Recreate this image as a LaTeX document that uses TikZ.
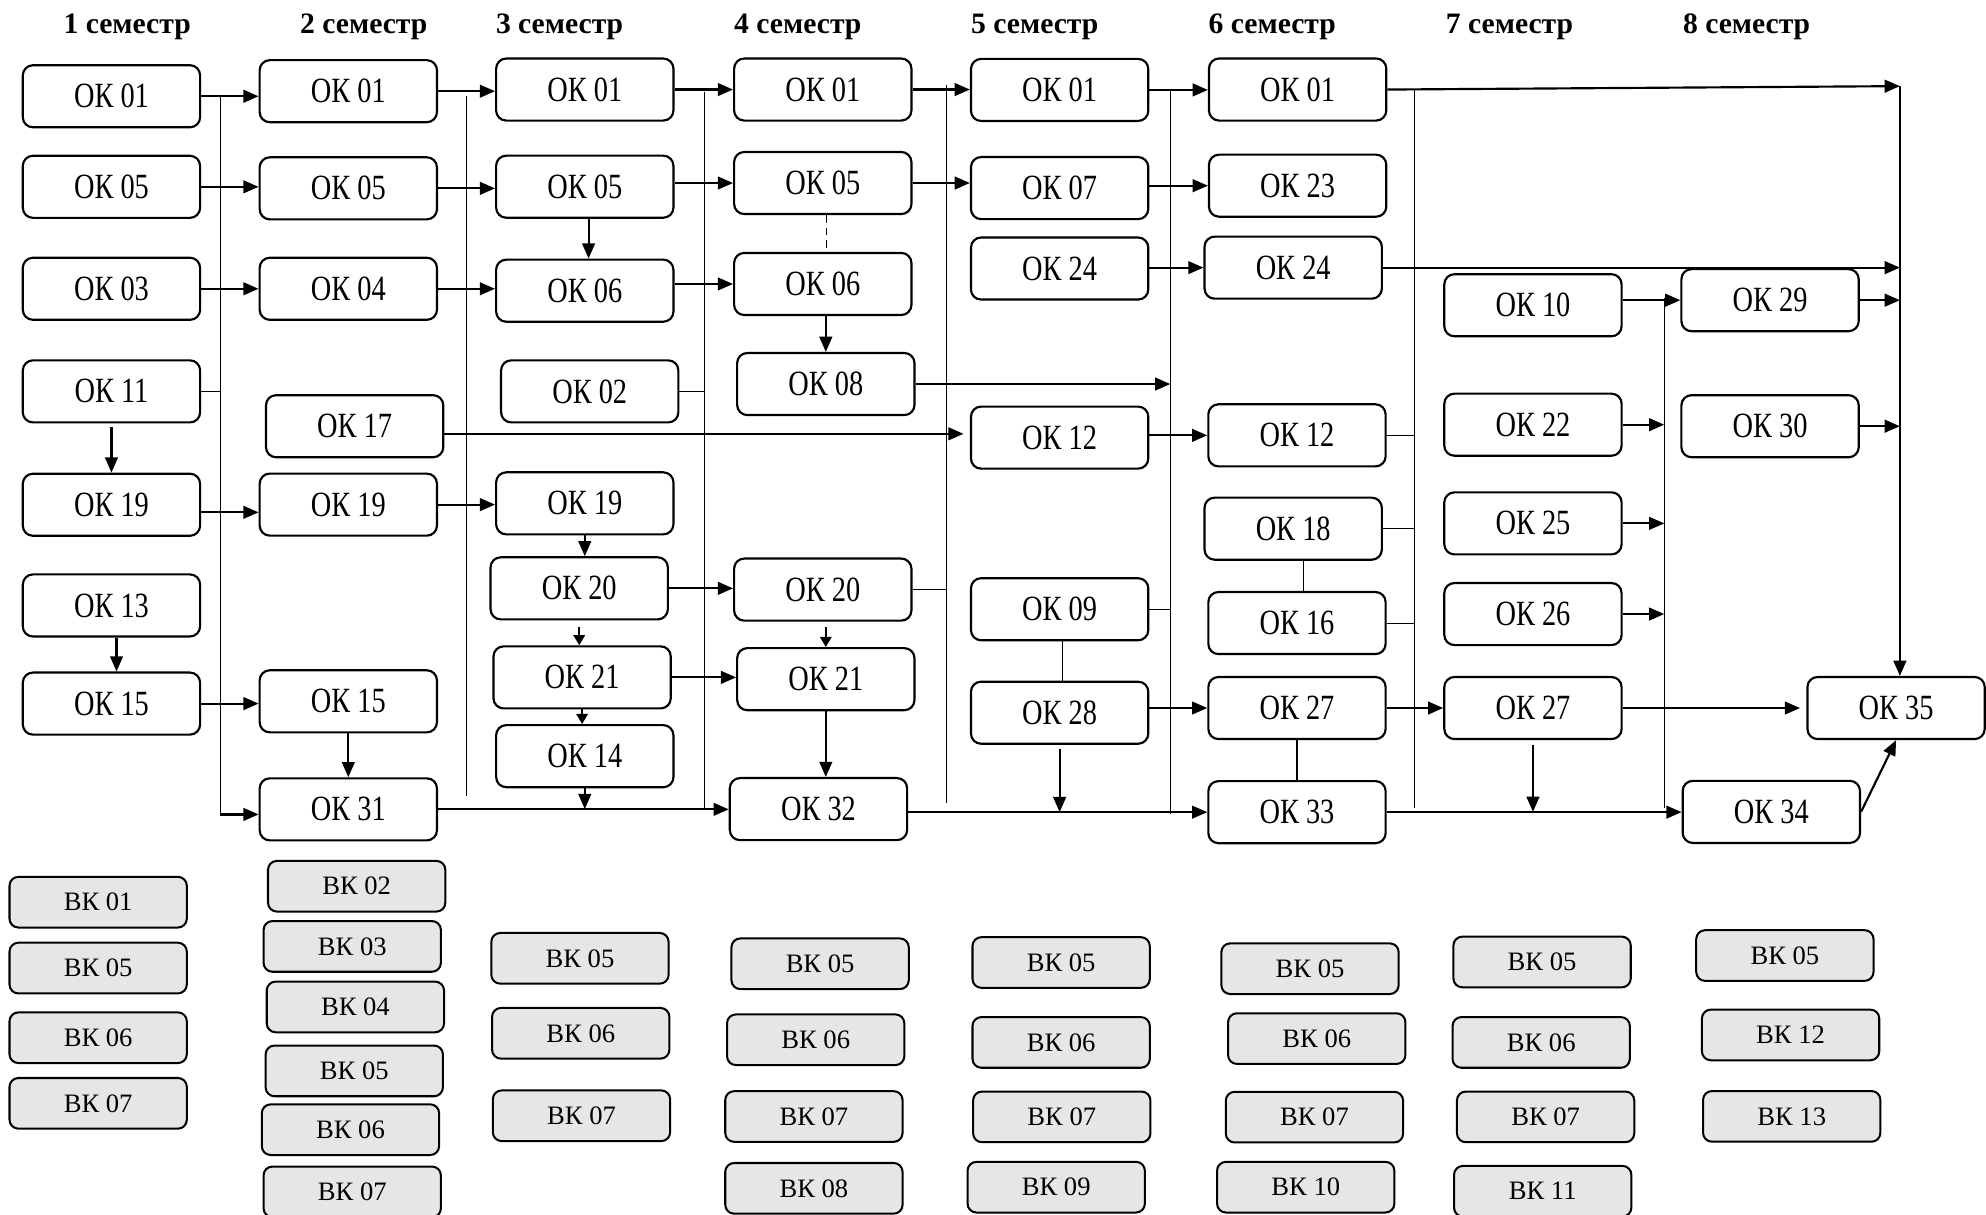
\documentclass[tikz,border=0pt]{standalone}
\usepackage{fontspec}
\setmainfont{Liberation Serif}
\usepackage{graphicx}
\usetikzlibrary{arrows.meta}
\definecolor{vkgray}{RGB}{230,230,230}
\newcommand\okfont{\fontsize{28}{30}\selectfont}
\newcommand\vkfont{\fontsize{21}{24}\selectfont}
\newcommand\hdfont{\fontsize{23.4}{26}\selectfont\bfseries}
\newcommand\OK[1]{\scalebox{0.8}[1]{ОК #1}}
\newcommand\VK[1]{ВК #1}
\tikzset{
 ok/.style={draw, line width=1.7pt, rounded corners=8pt, minimum width=140pt, minimum height=49pt, inner sep=0pt, font=\okfont},
 vk/.style={draw, line width=1.6pt, rounded corners=7pt, fill=vkgray, minimum width=140pt, minimum height=40pt, inner sep=0pt, font=\vkfont},
 hd/.style={anchor=base, inner sep=0pt, font=\hdfont},
 arr/.style={line width=1.7pt, -{Triangle[length=12pt,width=10pt]}},
 arrs/.style={line width=1.7pt, -{Triangle[length=8pt,width=9pt]}},
 tl/.style={line width=0.8pt},
}
\begin{document}
\begin{tikzpicture}[x=1pt,y=-1pt]
\fill[white] (0,0) rectangle (1568,959);
\useasboundingbox (0,0) rectangle (1568,959);
% headers
\node[hd] (s1) at (100.4,26.3) {1 семестр};
\node[hd] (s2) at (287.2,26.3) {2 семестр};
\node[hd] (s3) at (441.8,26.3) {3 семестр};
\node[hd] (s4) at (629.9,26.3) {4 семестр};
\node[hd] (s5) at (817,26.3) {5 семестр};
\node[hd] (s6) at (1004.5,26.3) {6 семестр};
\node[hd] (s7) at (1191.8,26.3) {7 семестр};
\node[hd] (s8) at (1379,26.3) {8 семестр};
% column 1
\node[ok] (a01) at (88,76) {\OK{01}};
\node[ok] (a05) at (88,147.5) {\OK{05}};
\node[ok] (a03) at (88,228) {\OK{03}};
\node[ok] (a11) at (88,309) {\OK{11}};
\node[ok] (a19) at (88,398.5) {\OK{19}};
\node[ok] (a13) at (88,478) {\OK{13}};
\node[ok] (a15) at (88,555.5) {\OK{15}};
% column 2
\node[ok] (b01) at (275,72) {\OK{01}};
\node[ok] (b05) at (275,148.7) {\OK{05}};
\node[ok] (b04) at (275,228) {\OK{04}};
\node[ok] (b17) at (280,336.5) {\OK{17}};
\node[ok] (b19) at (275,398.4) {\OK{19}};
\node[ok] (b15) at (275,553.7) {\OK{15}};
\node[ok] (b31) at (275,639) {\OK{31}};
% column 3
\node[ok] (c01) at (461.7,70.7) {\OK{01}};
\node[ok] (c05) at (461.7,147.4) {\OK{05}};
\node[ok] (c06) at (461.7,229.5) {\OK{06}};
\node[ok] (c02) at (465.6,309) {\OK{02}};
\node[ok] (c19) at (461.7,397.4) {\OK{19}};
\node[ok] (c20) at (457.3,464.5) {\OK{20}};
\node[ok] (c21) at (459.6,534.8) {\OK{21}};
\node[ok] (c14) at (461.7,597) {\OK{14}};
% column 4
\node[ok] (d01) at (649.6,70.7) {\OK{01}};
\node[ok] (d05) at (649.6,144.5) {\OK{05}};
\node[ok] (d06) at (649.6,224.2) {\OK{06}};
\node[ok] (d08) at (652,303.2) {\OK{08}};
\node[ok] (d20) at (649.6,465.5) {\OK{20}};
\node[ok] (d21) at (652,536.2) {\OK{21}};
\node[ok] (d32) at (646.2,638.8) {\OK{32}};
% column 5
\node[ok] (e01) at (836.6,71) {\OK{01}};
\node[ok] (e07) at (836.6,148.5) {\OK{07}};
\node[ok] (e24) at (836.6,212) {\OK{24}};
\node[ok] (e12) at (836.6,345.5) {\OK{12}};
\node[ok] (e09) at (836.6,481) {\OK{09}};
\node[ok] (e28) at (836.6,562.7) {\OK{28}};
% column 6
\node[ok] (f01) at (1024.5,70.7) {\OK{01}};
\node[ok] (f23) at (1024.5,146.6) {\OK{23}};
\node[ok] (f24) at (1021,211.3) {\OK{24}};
\node[ok] (f12) at (1024,343.7) {\OK{12}};
\node[ok] (f18) at (1021,417.4) {\OK{18}};
\node[ok] (f16) at (1024,491.9) {\OK{16}};
\node[ok] (f27) at (1024,559) {\OK{27}};
\node[ok] (f33) at (1024,641.2) {\OK{33}};
% column 7
\node[ok] (g10) at (1210.3,241) {\OK{10}};
\node[ok] (g22) at (1210.3,335.3) {\OK{22}};
\node[ok] (g25) at (1210.3,413.2) {\OK{25}};
\node[ok] (g26) at (1210.3,484.8) {\OK{26}};
\node[ok] (g27) at (1210.3,559) {\OK{27}};
% column 8
\node[ok] (h29) at (1397.5,237) {\OK{29}};
\node[ok] (h30) at (1397.5,336.5) {\OK{30}};
\node[ok] (h34) at (1398.5,641) {\OK{34}};
\node[ok] (h35) at (1497,559) {\OK{35}};
% VK boxes
\node[vk] (va01) at (77.5,712.3) {\VK{01}};
\node[vk] (va05) at (77.5,764.3) {\VK{05}};
\node[vk] (va06) at (77.5,819.3) {\VK{06}};
\node[vk] (va07) at (77.5,871.1) {\VK{07}};
\node[vk] (vb02) at (281.6,699.7) {\VK{02}};
\node[vk] (vb03) at (278.1,747.2) {\VK{03}};
\node[vk] (vb04) at (280.6,795) {\VK{04}};
\node[vk] (vb05) at (279.7,845.5) {\VK{05}};
\node[vk] (vb06) at (276.7,891.9) {\VK{06}};
\node[vk] (vb07) at (278.1,941) {\VK{07}};
\node[vk] (vc05) at (457.9,756.6) {\VK{05}};
\node[vk] (vc06) at (458.5,815.8) {\VK{06}};
\node[vk] (vc07) at (459.1,880.9) {\VK{07}};
\node[vk] (vd05) at (647.5,760.9) {\VK{05}};
\node[vk] (vd06) at (644,820.9) {\VK{06}};
\node[vk] (vd07) at (642.6,881.5) {\VK{07}};
\node[vk] (vd08) at (642.6,938.2) {\VK{08}};
\node[vk] (ve05) at (837.8,759.9) {\VK{05}};
\node[vk] (ve06) at (837.8,823) {\VK{06}};
\node[vk] (ve07) at (838.3,881.8) {\VK{07}};
\node[vk] (ve09) at (833.9,937.3) {\VK{09}};
\node[vk] (vf05) at (1034.3,764.8) {\VK{05}};
\node[vk] (vf06) at (1039.6,820) {\VK{06}};
\node[vk] (vf07) at (1037.8,882) {\VK{07}};
\node[vk] (vf10) at (1030.9,937.3) {\VK{10}};
\node[vk] (vg05) at (1217.5,759.5) {\VK{05}};
\node[vk] (vg06) at (1216.8,823) {\VK{06}};
\node[vk] (vg07) at (1220.3,881.8) {\VK{07}};
\node[vk] (vg11) at (1218,940.5) {\VK{11}};
\node[vk] (vh05) at (1409.2,754.4) {\VK{05}};
\node[vk] (vh12) at (1413.7,817.1) {\VK{12}};
\node[vk] (vh13) at (1414.6,881.4) {\VK{13}};
% vertical collector lines
\coordinate (v1t) at (174,75);   \coordinate (v1b) at (174,643);
\coordinate (v2t) at (368,76);   \coordinate (v2b) at (368,628.5);
\coordinate (v3t) at (556,72.4); \coordinate (v3b) at (556,639.5);
\coordinate (v4t) at (747,67);   \coordinate (v4b) at (747,634);
\coordinate (v5t) at (924,71);   \coordinate (v5b) at (924,643);
\coordinate (v6t) at (1117,71);  \coordinate (v6b) at (1117,638);
\coordinate (v7t) at (1314,235.5); \coordinate (v7b) at (1314,638);
\coordinate (bigt) at (1500,68);
\foreach \t/\b in {v1t/v1b,v2t/v2b,v3t/v3b,v4t/v4b,v5t/v5b,v6t/v6b,v7t/v7b}
  \draw[tl] (\t) -- (\b);
% column 1 -> 2
\draw[arr] (a01.east) -- (a01.east -| b01.west);
\draw[arr] (a05.east) -- (a05.east -| b05.west);
\draw[arr] (a03.east) -- (a03.east -| b04.west);
\coordinate (a19o) at ([yshift=-6pt]a19.east);
\draw[arr] (a19o) -- (a19o -| b19.west);
\draw[arr] (a15.east) -- (a15.east -| b15.west);
\draw[arr] (v1b) -- (v1b -| b31.west);
\draw[tl] (a11.east) -- (a11.east -| v1t);
\draw[arr, shorten <=3pt] (a11.south) -- (a19.north);
\draw[arr] ([xshift=4pt]a13.south) -- ([xshift=4pt]a15.north);
% column 2 -> 3
\draw[arr] (b01.east) -- (b01.east -| c01.west);
\draw[arr] (b05.east) -- (b05.east -| c05.west);
\draw[arr] (b04.east) -- (b04.east -| c06.west);
\draw[arr] (b19.east) -- (b19.east -| c19.west);
\draw[arr] (b15.south) -- (b31.north);
\coordinate (b17o) at ([yshift=-6pt]b17.east);
\draw[arr, shorten >=5pt] (b17o) -- (b17o -| e12.west);
\draw[arr] (b31.east) -- (b31.east -| d32.west);
% column 3 inner
\draw[arr] ([xshift=3pt]c05.south) -- ([xshift=3pt]c06.north);
\draw[arr] (c19.south) -- (c19.south |- c20.north);
\draw[arrs, shorten <=5pt] (c20.south) -- (c20.south |- c21.north);
\draw[arrs] (c21.south) -- (c21.south |- c14.north);
\draw[arr] (c14.south) -- (c14.south |- d32.west);
\draw[tl] (c02.east) -- (c02.east -| v3t);
% column 3 -> 4
\draw[arr] (c01.east) -- (c01.east -| d01.west);
\draw[arr] (c05.east |- d05.west) -- (d05.west);
\draw[arr] (c06.east |- d06.west) -- (d06.west);
\draw[arr] (c20.east) -- (c20.east -| d20.west);
\draw[arr] (c21.east) -- (c21.east -| d21.west);
% column 4 inner
\draw[line width=1.2pt, dash pattern=on 6pt off 4pt] ([xshift=3pt]d05.south) -- ([xshift=3pt]d06.north);
\draw[arr] (d06.south -| d08) -- (d08.north);
\draw[arr] (d08.east) -- (d08.east -| v5t);
\draw[tl] (d20.east) -- (d20.east -| v4t);
\draw[arrs, shorten <=4pt] (d20.south -| d21) -- (d21.north);
\draw[arr] (d21.south) -- (d21.south |- d32.north);
\draw[arr] (d32.east |- f33.west) -- (f33.west);
% column 4 -> 5
\draw[arr] (d01.east) -- (d01.east -| e01.west);
\draw[arr] (d05.east) -- (d05.east -| e07.west);
% column 5 inner
\draw[arr, shorten <=3pt] (e28.south) -- (e28.south |- f33.west);
\draw[tl] ([xshift=2pt]e09.south) -- ([xshift=2pt]e28.north);
\draw[tl] (e09.east) -- (e09.east -| v5t);
% column 5 -> 6
\draw[arr] (e01.east) -- (e01.east -| f01.west);
\draw[arr] (e07.east |- f23.west) -- (f23.west);
\draw[arr] (e24.east |- f24.west) -- (f24.west);
\draw[arr] (e12.east |- f12.west) -- (f12.west);
\draw[arr] (e28.east |- f27.west) -- (f27.west);
% column 6
\draw[tl] ([xshift=8pt]f18.south) -- ([xshift=8pt]f18.south |- f16.north);
\draw[tl] (f27.south) -- (f33.north);
\draw[tl] (f12.east) -- (f12.east -| v6t);
\draw[tl] (f18.east) -- (f18.east -| v6t);
\draw[tl] (f16.east) -- (f16.east -| v6t);
\draw[arr] (f01.east) -- (bigt);
\draw[arr] (f24.east) -- (f24.east -| bigt);
\draw[arr] (bigt) -- (bigt |- h35.north);
\draw[arr] (f27.east) -- (f27.east -| g27.west);
\draw[arr] (f33.east) -- (f33.east -| h34.west);
% column 7
\draw[arr, shorten <=4pt] (g27.south) -- (g27.south |- h34.west);
\draw[arr] (g10.east |- h29.west) -- (h29.west);
\draw[arr] (g22.east) -- (g22.east -| v7t);
\draw[arr] (g25.east) -- (g25.east -| v7t);
\draw[arr] (g26.east) -- (g26.east -| v7t);
\draw[arr, shorten >=5pt] (g27.east) -- (g27.east -| h35.west);
% column 8
\draw[arr] (h29.east) -- (h29.east -| bigt);
\draw[arr] (h30.east) -- (h30.east -| bigt);
\draw[arr] (h34.east) -- (h35.south);
\end{tikzpicture}
\end{document}
